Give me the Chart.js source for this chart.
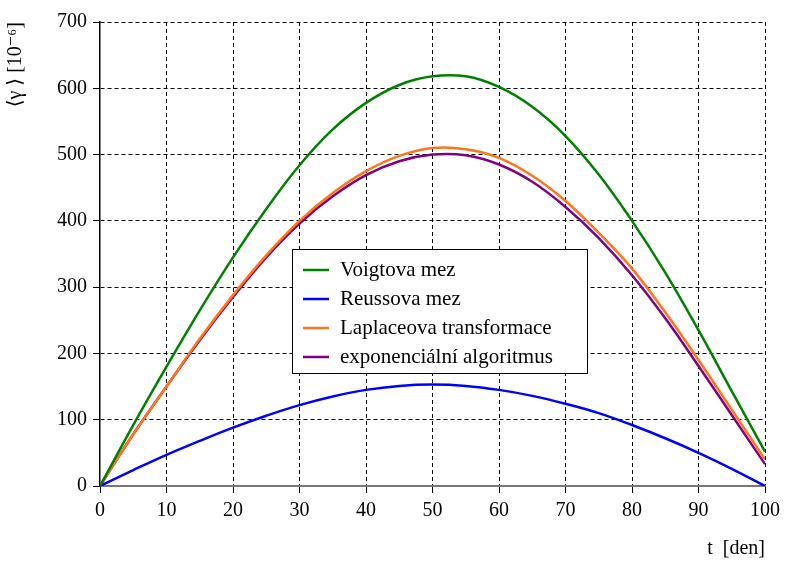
<!DOCTYPE html>
<html>
<head>
<meta charset="utf-8">
<script src="https://cdn.jsdelivr.net/npm/chart.js@4"></script>
<style>
    html, body { margin: 0; padding: 0; background: #fff; }
    #wrap { width: 786px; height: 565px; }
</style>
</head>
<body>
<div id="wrap"><canvas id="chart" width="786" height="565"></canvas></div>
<script>
// time axis [den]
const days = [0, 5, 10, 15, 20, 25, 30, 35, 40, 45, 50, 55, 60, 65, 70, 75, 80, 85, 90, 95, 100];

// strain <gamma> [1e-6]
const voigt   = [0, 92, 180, 265, 345, 418, 484, 538, 578, 605, 618, 618, 602, 572, 528, 470, 400, 322, 235, 143, 52];
const reuss   = [0, 24, 47, 68, 88, 106, 122, 135, 145, 151, 153, 151, 145, 136, 124, 110, 92, 72, 50, 26, 0];
const laplace = [0, 78, 150, 222, 288, 348, 400, 442, 475, 498, 510, 508, 495, 468, 430, 382, 328, 262, 190, 115, 40];
const expAlg  = [0, 78, 150, 220, 285, 345, 396, 437, 469, 490, 500, 499, 485, 459, 421, 374, 318, 253, 181, 107, 33];

const labels = ['Voigtova mez', 'Reussova mez', 'Laplaceova transformace', 'exponenciální algoritmus'];
const colors = ['#008000', '#0000ff', '#ff7518', '#800080'];
const seriesList = [voigt, reuss, laplace, expAlg];

const FONT = '"Liberation Serif", "DejaVu Serif", serif';

function toPoints(values) {
    return values.map((v, i) => ({ x: days[i], y: v }));
}

// no dashed grid line on top of the axis line itself
function gridColor(ctx) {
    return ctx.tick && ctx.tick.value === 0 ? 'rgba(0,0,0,0)' : '#000';
}

// legend box drawn inside the plot like the original
const boxLegend = {
    id: 'boxLegend',
    afterDraw(chart) {
        const ctx = chart.ctx;
        const x0 = 292, y0 = 249, w = 295, h = 124;
        ctx.save();
        ctx.fillStyle = '#fff';
        ctx.fillRect(x0, y0, w, h);
        ctx.strokeStyle = '#000';
        ctx.lineWidth = 1;
        ctx.strokeRect(x0 + 0.5, y0 + 0.5, w, h);
        ctx.font = '21px ' + FONT;
        ctx.textBaseline = 'middle';
        chart.data.datasets.forEach((ds, i) => {
            const y = y0 + 21 + i * 29;
            ctx.strokeStyle = ds.borderColor;
            ctx.lineWidth = 2.5;
            ctx.beginPath();
            ctx.moveTo(x0 + 11, y);
            ctx.lineTo(x0 + 37, y);
            ctx.stroke();
            ctx.fillStyle = '#000';
            ctx.fillText(ds.label, x0 + 48, y);
        });
        ctx.restore();
    }
};

new Chart(document.getElementById('chart'), {
    type: 'line',
    data: {
        datasets: seriesList.map((s, i) => ({
            label: labels[i],
            data: toPoints(s),
            borderColor: colors[i],
            backgroundColor: colors[i],
            borderWidth: 2.5,
            pointRadius: 0,
            tension: 0.4,
            fill: false
        }))
    },
    options: {
        responsive: false,
        animation: false,
        layout: { padding: { top: 22, right: 18, left: 0, bottom: 0 } },
        plugins: {
            legend: { display: false },
            tooltip: { enabled: false }
        },
        scales: {
            x: {
                type: 'linear',
                min: 0,
                max: 100,
                ticks: { stepSize: 10, color: '#000', font: { family: FONT, size: 20 }, padding: 6 },
                grid: { color: gridColor, tickBorderDash: [], tickColor: '#000', tickLength: 7, lineWidth: 1 },
                border: { color: '#777', width: 2, dash: [4, 3] },
                title: { display: true, text: 't  [den]', align: 'end', color: '#000', font: { family: FONT, size: 20 }, padding: { top: 0 } },
                afterFit(scale) { scale.height = 79; }
            },
            y: {
                min: 0,
                max: 700,
                ticks: { stepSize: 100, color: '#000', font: { family: FONT, size: 20 }, padding: 6 },
                grid: { color: gridColor, tickBorderDash: [], tickColor: '#000', tickLength: 7, lineWidth: 1 },
                border: { color: '#000', width: 1.5, dash: [4, 3] },
                title: { display: true, text: '⟨γ ⟩ [10⁻⁶]', align: 'end', color: '#000', font: { family: FONT, size: 20 }, padding: { bottom: 2 } },
                afterFit(scale) { scale.width = 100; }
            }
        }
    },
    plugins: [boxLegend]
});
</script>
</body>
</html>
